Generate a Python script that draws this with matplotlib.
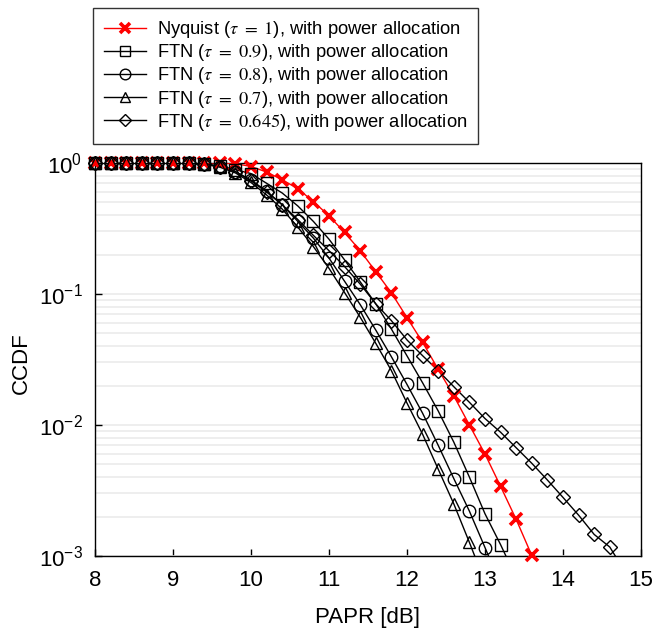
import matplotlib
matplotlib.use("Agg")
import matplotlib.pyplot as plt
from matplotlib.lines import Line2D
import numpy as np

plt.rcParams['font.family'] = ['Liberation Sans', 'DejaVu Sans']
plt.rcParams['mathtext.fontset'] = 'stix'

# PAPR grid (dB), 0.2 dB steps
papr = np.round(np.arange(8.0, 14.81, 0.2), 1)

# CCDF curves
ccdf_nyq = [1, 1, 1, 1, 1, 1, 1, 1, 1, 0.99, 0.94, 0.853, 0.745, 0.636, 0.508,
            0.395, 0.295, 0.214, 0.148, 0.102, 0.066, 0.0428, 0.0266, 0.0167,
            0.0100, 0.0060, 0.0034, 0.0019, 0.00101]
ccdf_09 = [1, 1, 1, 1, 1, 1, 1, 0.98, 0.95, 0.89, 0.83, 0.70, 0.59, 0.47, 0.358,
           0.262, 0.182, 0.124, 0.084, 0.054, 0.0337, 0.021, 0.0128, 0.0074,
           0.0040, 0.0021, 0.00122, 0.00068]
ccdf_08 = [1, 1, 1, 1, 1, 1, 1, 0.98, 0.94, 0.86, 0.74, 0.61, 0.48, 0.358, 0.267,
           0.188, 0.125, 0.083, 0.053, 0.0332, 0.0204, 0.0123, 0.0070, 0.0039,
           0.0022, 0.00116, 0.0006]
ccdf_07 = [1, 1, 1, 1, 1, 1, 1, 0.98, 0.93, 0.84, 0.71, 0.57, 0.445, 0.324, 0.23,
           0.157, 0.1025, 0.0665, 0.042, 0.026, 0.0147, 0.0085, 0.0046, 0.0025,
           0.00127, 0.00063]
ccdf_0645 = [1, 1, 1, 1, 1, 1, 1, 0.98, 0.94, 0.86, 0.73, 0.60, 0.48, 0.37, 0.28,
             0.214, 0.162, 0.119, 0.084, 0.0626, 0.0446, 0.0338, 0.026, 0.0196,
             0.0149, 0.0112, 0.0088, 0.0067, 0.0051, 0.0038, 0.0028, 0.00205,
             0.00146, 0.00117, 0.00075]

labels = [r'Nyquist ($\tau\ =\ 1$), with power allocation',
          r'FTN ($\tau\ =\ 0.9$), with power allocation',
          r'FTN ($\tau\ =\ 0.8$), with power allocation',
          r'FTN ($\tau\ =\ 0.7$), with power allocation',
          r'FTN ($\tau\ =\ 0.645$), with power allocation']
series = [ccdf_nyq, ccdf_09, ccdf_08, ccdf_07, ccdf_0645]
markers = ['x', 's', 'o', '^', 'D']
colors = ['red', 'black', 'black', 'black', 'black']
msizes = [9, 8.5, 9, 8.5, 7.5]
mews = [2.6, 1.0, 1.0, 1.0, 1.0]

fig = plt.figure(figsize=(6.52, 6.31), dpi=100)
ax = fig.add_axes([0.1457, 0.1189, 0.8374, 0.6228])

handles = []
for y, m, c, ms, mw, lab in zip(series, markers, colors, msizes, mews, labels):
    y = np.array(y)
    x = papr[:len(y)]
    ax.plot(x, y, color=c, lw=1.0, zorder=3)
    inside = y >= 1e-3
    ax.plot(x[inside], y[inside], ls='none', marker=m, ms=ms, mew=mw,
            mec=c, mfc='none', clip_on=False, zorder=4)
    handles.append(Line2D([], [], color=c, lw=1.0, marker=m, ms=ms * 0.85,
                          mew=mw, mec=c, mfc='none', label=lab))

ax.set_yscale('log')
ax.set_xlim(8, 15)
ax.set_ylim(1e-3, 1)
ax.set_xticks(range(8, 16))
ax.grid(True, which='both', axis='y', color='#ebebeb', lw=1.2)
ax.set_axisbelow(True)
ax.tick_params(which='major', direction='in', length=5, width=1, labelsize=16)
ax.tick_params(axis='x', pad=10)
ax.tick_params(axis='y', pad=9)
ax.tick_params(which='minor', length=0)
for s in ax.spines.values():
    s.set_linewidth(1.0)

ax.set_xlabel('PAPR [dB]', fontsize=16)
ax.set_ylabel('CCDF', fontsize=16)
ax.xaxis.set_label_coords(0.5, -0.13)
ax.yaxis.set_label_coords(-0.115, 0.49)

leg = fig.legend(handles=handles, loc='upper left',
                 bbox_to_anchor=(93 / 652, 1 - 8 / 631), fontsize=13.2,
                 frameon=True, fancybox=False, edgecolor='black',
                 handlelength=2.3, handletextpad=0.6, labelspacing=0.12,
                 borderpad=0.6, borderaxespad=0)
leg.get_frame().set_linewidth(1.0)

fig.savefig('out.png', dpi=100)
